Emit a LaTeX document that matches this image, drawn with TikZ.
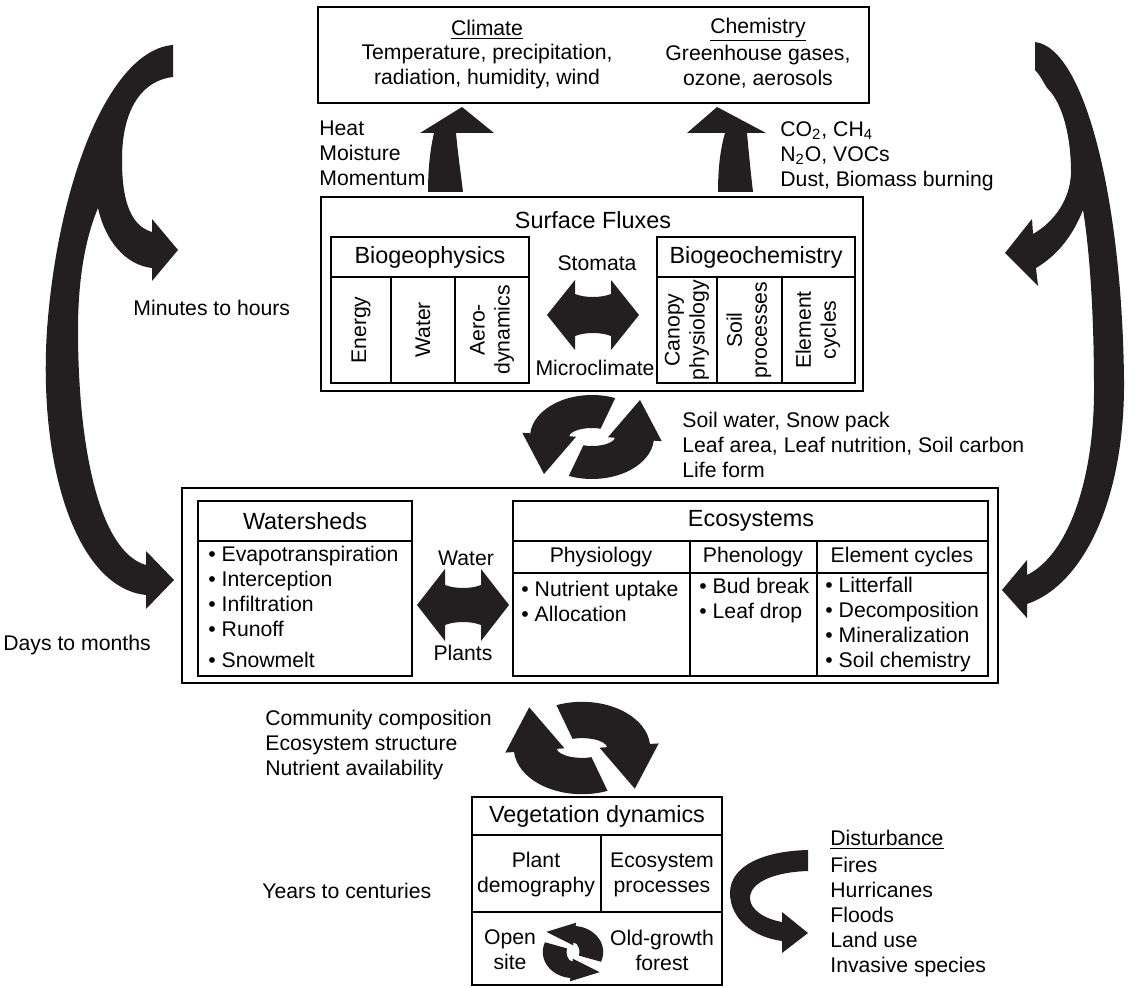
\documentclass[tikz,border=0pt]{standalone}
\usepackage{fontspec}
\setmainfont{Liberation Sans}
\usetikzlibrary{calc}
\definecolor{inkblack}{RGB}{35,31,32}
\newcommand{\fsz}{\fontsize{10.6}{12.5}\selectfont}
\newcommand{\hsz}{\fontsize{11.7}{14}\selectfont}

% one curved arrow of a turning pair, drawn round the origin
\newcommand{\halfturn}{%
  \fill[inkblack] (292:62 and 42) arc[start angle=292, end angle=185, x radius=62, y radius=42]
    -- (185:70 and 48) -- (-48,37) -- (185:16 and 3) -- (185:23 and 9)
    arc[start angle=185, end angle=292, x radius=23, y radius=9] -- cycle;}
\newcommand{\turnpair}{\halfturn\begin{scope}[rotate=180]\halfturn\end{scope}}

\begin{document}
\begin{tikzpicture}[
    x=0.5pt, y=-0.5pt,
    lbl/.style={inner sep=0pt, font=\fsz, align=center},
    hdr/.style={lbl, font=\hsz},
    outerbox/.style={draw, line width=0.9pt},
    cell/.style={draw, line width=0.6pt},
    blob/.style={fill=inkblack}
]
\useasboundingbox (0,0) rectangle (1143,988);

% Atmosphere
\draw[outerbox] (318,7) rectangle (869,103);
\node[lbl] (climate) at (487,30) {\underline{Climate}};
\node[lbl] (climtext) at (487,67) {Temperature, precipitation,\\radiation, humidity, wind};
\node[lbl] (chemistry) at (758,30) {\underline{Chemistry}};
\node[lbl] (chemtext) at (758,67) {Greenhouse gases,\\ozone, aerosols};

% Fluxes going up
\node[lbl, anchor=west, align=left] (heat) at (319,153) {Heat\\Moisture\\Momentum};
\node[lbl, anchor=west, align=left] (gases) at (780,156) {CO\textsubscript{2}, CH\textsubscript{4}\\N\textsubscript{2}O, VOCs\\Dust, Biomass burning};
\fill[blob] (462,107) -- (494,133) -- (456,133) .. controls (458,155) and (461,175) .. (463,192)
  -- (428,192) .. controls (428,170) and (430,150) .. (434,133) -- (420,133) -- cycle;
\fill[blob] (717,107) -- (766,133) -- (747,133) .. controls (749,155) and (751,175) .. (753,192)
  -- (718,192) .. controls (718,170) and (720,150) .. (725,133) -- (687,133) -- cycle;

% Surface fluxes
\draw[outerbox] (321,197) rectangle (863,391);
\node[hdr] (surface) at (593,220) {Surface Fluxes};
\draw[cell] (331,237) rectangle (529,383);
\draw[cell] (331,277) -- (529,277);
\draw[cell] (391,277) -- (391,383);
\draw[cell] (455,277) -- (455,383);
\node[hdr] (geophys) at (430,257) {Biogeophysics};
\node[lbl, rotate=90] (energy) at (361,330) {Energy};
\node[lbl, rotate=90] (water) at (423,330) {Water};
\node[lbl, rotate=90] (aero) at (492,330) {Aero-\\dynamics};
\draw[cell] (657,237) rectangle (855,383);
\draw[cell] (657,277) -- (855,277);
\draw[cell] (717,277) -- (717,383);
\draw[cell] (782,277) -- (782,383);
\node[hdr] (geochem) at (756,257) {Biogeochemistry};
\node[lbl, rotate=90] (canopy) at (687,330) {Canopy\\physiology};
\node[lbl, rotate=90] (soilproc) at (749,330) {Soil\\processes};
\node[lbl, rotate=90] (elemcyc) at (818,330) {Element\\cycles};
\node[lbl] (stomata) at (597,263) {Stomata};
\node[lbl] (microclim) at (595,368) {Microclimate};
\fill[blob] (547,315) -- (575,280) -- (575,294) .. controls (585,298) and (601,298) .. (611,294)
  -- (611,280) -- (639,315) -- (611,350) -- (611,336) .. controls (601,332) and (585,332) .. (575,336)
  -- (575,350) -- cycle;

% Time scales
\node[lbl, anchor=west] (minutes) at (133,308) {Minutes to hours};
\node[lbl, anchor=west] (days) at (3,645) {Days to months};
\node[lbl, anchor=west] (years) at (262,891) {Years to centuries};
\fill[blob] (173,45) .. controls (110,50) and (58,180) .. (47,330)
  .. controls (38,470) and (78,588) .. (146,595)
  -- (146,609) -- (174,580) -- (146,551) -- (146,565)
  .. controls (100,552) and (78,450) .. (78,330)
  .. controls (78,270) and (88,232) .. (98,208)
  .. controls (105,240) and (125,265) .. (152,268)
  -- (152,281) -- (178,250) -- (152,219) -- (152,232)
  .. controls (128,225) and (122,195) .. (122,160)
  .. controls (122,105) and (145,80) .. (173,77) -- cycle;
\fill[blob] (1035,42) .. controls (1085,48) and (1122,200) .. (1124,380)
  .. controls (1125,500) and (1083,585) .. (1027,604)
  -- (1027,618) -- (1002,590) -- (1027,560) -- (1027,575)
  .. controls (1068,555) and (1094,480) .. (1094,390)
  .. controls (1094,300) and (1088,240) .. (1083,210)
  .. controls (1073,235) and (1058,255) .. (1036,268)
  -- (1038,286) -- (1005,253) -- (1032,219) -- (1033,234)
  .. controls (1054,222) and (1070,200) .. (1071,173)
  .. controls (1071,130) and (1060,100) .. (1047,88)
  .. controls (1042,80) and (1040,75) .. (1035,70) -- cycle;

% Surface state feedback
\begin{scope}[shift={(592,437)}]
  \turnpair
\end{scope}
\node[lbl, anchor=west, align=left] (state) at (682,445) {Soil water, Snow pack\\Leaf area, Leaf nutrition, Soil carbon\\Life form};

% Hydrology and ecosystems
\draw[outerbox] (182,488) rectangle (998,683);
\draw[cell] (198,501) rectangle (412,676);
\draw[cell] (198,541) -- (412,541);
\node[hdr] (watersheds) at (305,521) {Watersheds};
\node[lbl, anchor=west, align=left] (wslist) at (208,607) {\textbullet\ Evapotranspiration\\ \textbullet\ Interception\\ \textbullet\ Infiltration\\ \textbullet\ Runoff\\[3pt] \textbullet\ Snowmelt};
\node[lbl] (waterlbl) at (466,558) {Water};
\node[lbl] (plants) at (463,653) {Plants};
\fill[blob] (417,605) -- (445,569) -- (445,585) .. controls (455,589) and (471,589) .. (481,585)
  -- (481,569) -- (509,605) -- (481,641) -- (481,625) .. controls (471,621) and (455,621) .. (445,625)
  -- (445,641) -- cycle;
\draw[cell] (513,501) rectangle (988,676);
\draw[cell] (513,541) -- (988,541);
\draw[cell] (513,573) -- (988,573);
\draw[cell] (690,541) -- (690,676);
\draw[cell] (817,541) -- (817,676);
\node[hdr] (ecosys) at (751,521) {Ecosystems};
\node[lbl] (physio) at (601,557) {Physiology};
\node[lbl] (pheno) at (753,557) {Phenology};
\node[lbl] (cycles) at (902,557) {Element cycles};
\node[lbl, anchor=west, align=left] (physlist) at (521,601) {\textbullet\ Nutrient uptake\\ \textbullet\ Allocation};
\node[lbl, anchor=west, align=left] (phenlist) at (699,601) {\textbullet\ Bud break\\ \textbullet\ Leaf drop};
\node[lbl, anchor=west, align=left] (cyclist) at (825,625) {\textbullet\ Litterfall\\ \textbullet\ Decomposition\\ \textbullet\ Mineralization\\ \textbullet\ Soil chemistry};

% Vegetation feedback
\begin{scope}[shift={(582,748)}, xscale=-1.1, yscale=1.1]
  \turnpair
\end{scope}
\node[lbl, anchor=west, align=left] (community) at (265,745) {Community composition\\Ecosystem structure\\Nutrient availability};

% Vegetation dynamics
\draw[cell] (472,797) rectangle (722,985);
\draw[cell] (472,835) -- (722,835);
\draw[cell] (601,835) -- (601,912);
\draw[cell] (472,912) -- (722,912);
\node[hdr] (vegdyn) at (597,816) {Vegetation dynamics};
\node[lbl] (demog) at (536,875) {Plant\\demography};
\node[lbl] (ecoproc) at (662,875) {Ecosystem\\processes};
\node[lbl] (opensite) at (510,950) {Open\\site};
\node[lbl] (oldgrowth) at (662,950) {Old-growth\\forest};
\begin{scope}[shift={(573,952)}, rotate=-90, xscale=0.42, yscale=0.72]
  \turnpair
\end{scope}

% Disturbance
\node[lbl, anchor=west] (disturb) at (830,840) {\underline{Disturbance}};
\node[lbl, anchor=west, align=left] (distlist) at (830,917) {Fires\\Hurricanes\\Floods\\Land use\\Invasive species};
\fill[blob] (808,850) .. controls (765,851) and (730,865) .. (730,893)
  .. controls (730,918) and (752,937) .. (782,941)
  -- (782,953) -- (808,933) -- (782,912) -- (782,922)
  .. controls (765,919) and (750,910) .. (750,898)
  .. controls (750,882) and (775,872) .. (808,871) -- cycle;
\end{tikzpicture}
\end{document}
